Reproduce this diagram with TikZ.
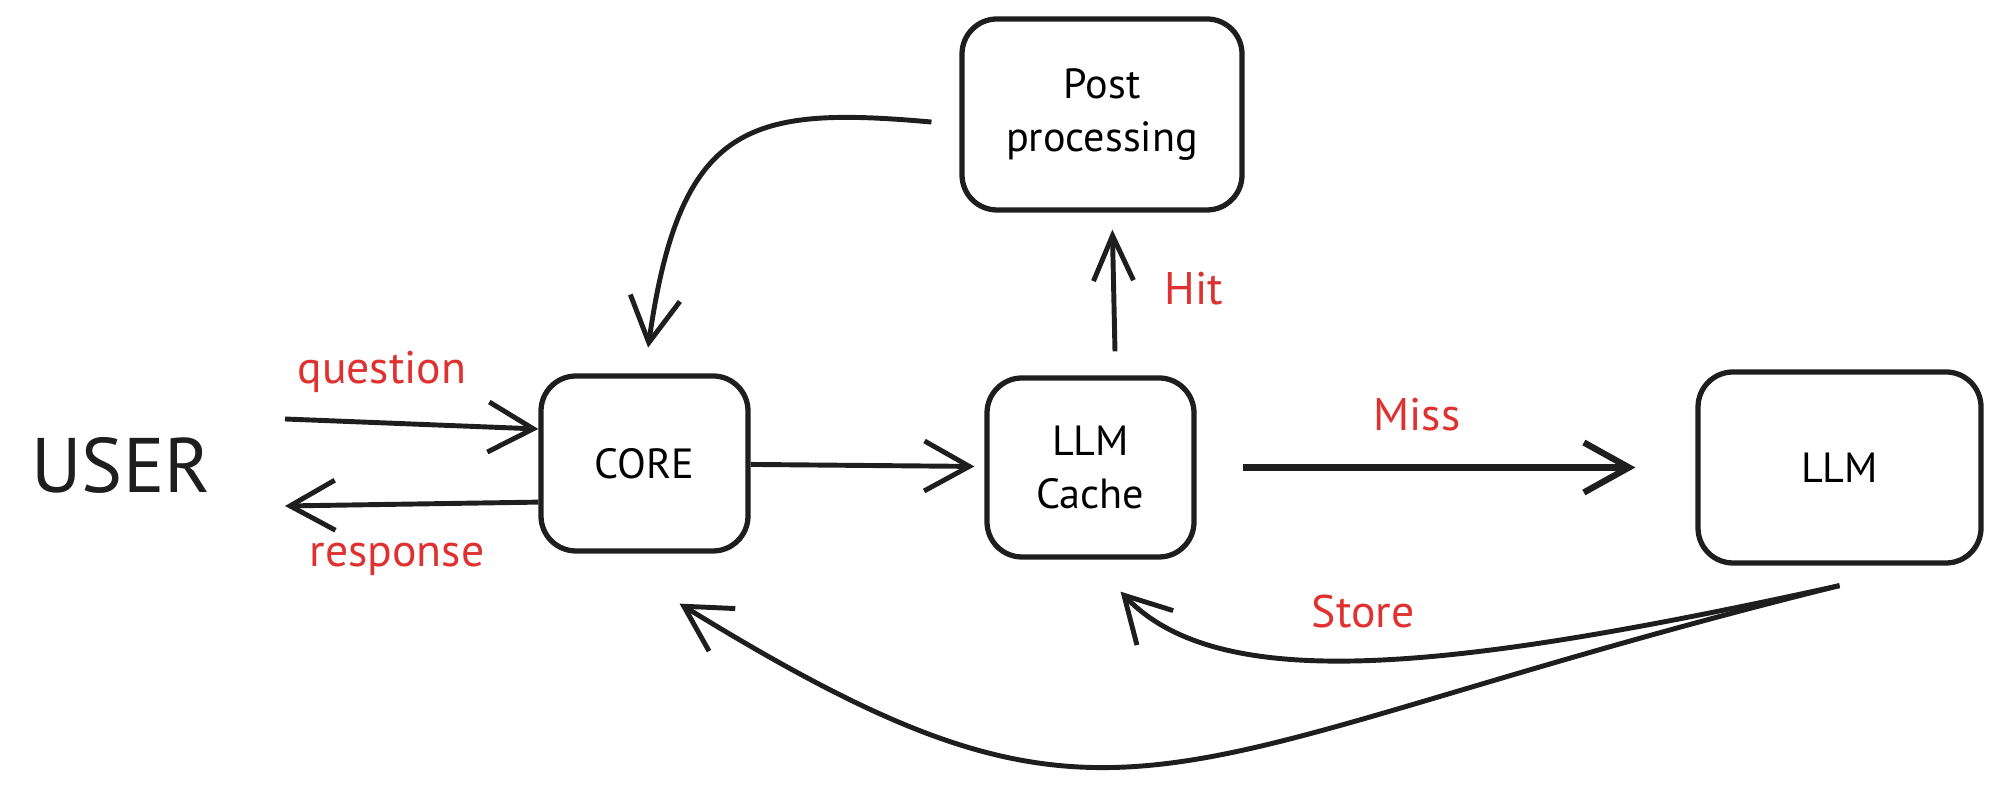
\documentclass[tikz,border=0pt]{standalone}
\usepackage{fontspec}
\setmainfont{PT Sans}
\usetikzlibrary{arrows.meta}
\definecolor{ink}{HTML}{1E1E1E}
\definecolor{inkred}{HTML}{E03131}

\begin{document}
\begin{tikzpicture}[
	block/.style={draw=ink, line width=1.5pt, rounded corners=3.5mm, align=center, inner sep=0pt, font=\fontsize{12}{15}\selectfont},
	arr/.style={draw=ink, line width=1.4pt, -{Straight Barb[length=4.5mm, width=5mm]}},
	lbl/.style={text=inkred, font=\fontsize{13}{15}\selectfont}
	]
	\useasboundingbox (0,0) rectangle (19.98,7.86);
	
	% Nutzer
	\node (user) [font=\fontsize{22}{26}\selectfont, text=ink] at (1.21,3.21) {USER};
	
	% Bloecke
	\node (post) [block, minimum width=2.8cm, minimum height=1.91cm] at (11.02,6.715) {Post\\processing};
	\node (core) [block, minimum width=2.07cm, minimum height=1.75cm] at (6.445,3.225) {CORE};
	\node (cache) [block, minimum width=2.07cm, minimum height=1.79cm] at (10.905,3.185) {LLM\\Cache};
	\node (llm) [block, minimum width=2.83cm, minimum height=1.91cm] at (18.395,3.185) {LLM};
	
	% Frage und Antwort
	\coordinate (qin) at (2.85,3.67);
	\coordinate (rout) at (2.85,2.80);
	\draw[arr] (qin) -- (core.162);
	\draw[arr] (core.200) -- (rout);
	\node (question) [lbl] at (3.82,4.14) {question};
	\node (response) [lbl] at (3.97,2.27) {response};
	
	% Core zum Cache
	\draw[arr, shorten >=1mm] (core) -- (cache);
	
	% Miss
	\draw[arr, line width=1.8pt, shorten <=4.6mm, shorten >=6mm] (cache) -- (llm);
	\node (miss) [lbl] at (14.17,3.71) {Miss};
	
	% Hit
	\draw[arr, -{Straight Barb[length=4.5mm, width=4mm]}, shorten <=2.4mm, shorten >=1.7mm] ([xshift=2.5mm]cache.north) -- ([xshift=1mm]post.south);
	\node (hit) [lbl] at (11.94,4.97) {Hit};
	
	% zurueck zum Core
	\draw[arr, shorten <=2.8mm, shorten >=2.6mm] ([yshift=-1mm]post.west) .. controls (7.5,6.8) and (6.8,6.65) .. (core.north);
	
	% Store
	\draw[arr] ([yshift=-2mm]llm.south) .. controls (14.5,1.15) and (12.2,0.9) .. ([shift={(0.3,-0.32)}]cache.south);
	\node (store) [lbl] at (13.63,1.74) {Store};
	
	% LLM zum Core
	\draw[arr] ([yshift=-2mm]llm.south) .. controls (11.43,0.28) and (11.29,-0.94) .. ([shift={(0.35,-0.5)}]core.south);
	
\end{tikzpicture}
\end{document}
